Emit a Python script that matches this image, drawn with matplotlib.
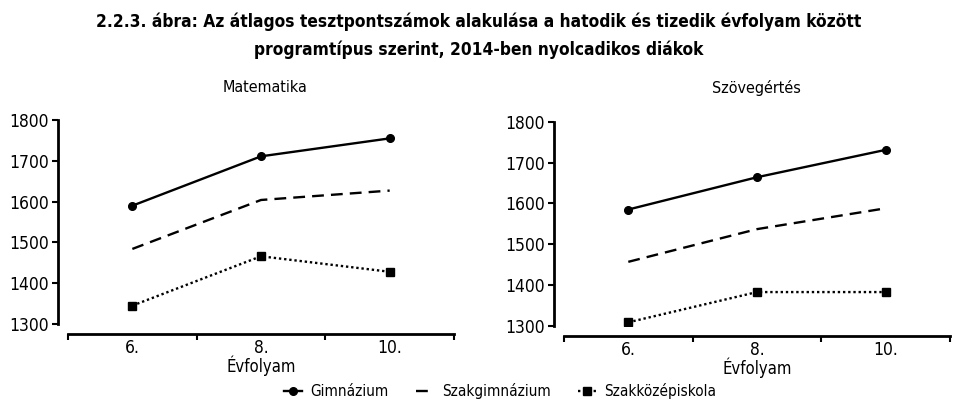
import matplotlib.pyplot as plt
from matplotlib import font_manager
from matplotlib.ticker import FixedLocator, NullFormatter

# Keskeny betűtípus, ha van
nevek = {f.name for f in font_manager.fontManager.ttflist}
szukitett = [f for f in font_manager.fontManager.ttflist
             if f.stretch in ('condensed', 'semi-condensed', 'extra-condensed', 400)]
if 'Liberation Sans Narrow' in nevek:
    plt.rcParams['font.family'] = ['Liberation Sans Narrow', 'DejaVu Sans']
elif szukitett:
    plt.rcParams['font.family'] = [szukitett[0].name, 'DejaVu Sans']
    plt.rcParams['font.stretch'] = 'condensed'
else:
    plt.rcParams['font.family'] = ['Roboto', 'DejaVu Sans']

# Adatok
evfolyam = ['6.', '8.', '10.']
sorozatok = ['Gimnázium', 'Szakgimnázium', 'Szakközépiskola']

mat_gimn = [1590, 1711, 1755]
mat_szakgimn = [1484, 1604, 1627]
mat_szakkozep = [1345, 1466, 1428]

szov_gimn = [1585, 1664, 1731]
szov_szakgimn = [1457, 1537, 1588]
szov_szakkozep = [1309, 1383, 1383]

yticks = [1300, 1400, 1500, 1600, 1700, 1800]

stilus = [
    dict(color='black', linestyle='-', marker='o', markersize=5.5, linewidth=1.7),
    dict(color='black', linestyle=(0, (5, 3)), marker=None, linewidth=1.7),
    dict(color='black', linestyle=(0, (1, 1.2)), marker='s', markersize=5.5, linewidth=1.7),
]

fig = plt.figure(figsize=(9.58, 4.13), dpi=100)

fig.text(0.5, 0.947, '2.2.3. ábra: Az átlagos tesztpontszámok alakulása a hatodik és tizedik évfolyam között',
         ha='center', va='center', fontsize=12.4, fontweight='bold')
fig.text(0.5, 0.879, 'programtípus szerint, 2014-ben nyolcadikos diákok',
         ha='center', va='center', fontsize=12.4, fontweight='bold')

ax1 = fig.add_axes([0.0710, 0.2155, 0.4029, 0.4939])
ax2 = fig.add_axes([0.5887, 0.2107, 0.4029, 0.4947])

panelek = [
    (ax1, 'Matematika', [mat_gimn, mat_szakgimn, mat_szakkozep], 0.277),
    (ax2, 'Szövegértés', [szov_gimn, szov_szakgimn, szov_szakkozep], 0.790),
]

x = list(range(len(evfolyam)))
for ax, cim, adatok, cx in panelek:
    for nev, ertekek, st in zip(sorozatok, adatok, stilus):
        ax.plot(x, ertekek, label=nev, **st)
    ax.set_xlim(-0.5, len(evfolyam) - 0.5)
    ax.set_ylim(1300, 1800)
    ax.set_yticks(yticks)
    ax.xaxis.set_major_locator(FixedLocator([i - 0.5 for i in range(len(evfolyam) + 1)]))
    ax.xaxis.set_major_formatter(NullFormatter())
    ax.set_xticks(x, minor=True)
    ax.set_xticklabels(evfolyam, minor=True)
    ax.tick_params(axis='x', which='minor', length=0, pad=4, labelsize=12.5)
    ax.tick_params(axis='x', which='major', length=4, width=1.5, direction='out')
    ax.tick_params(axis='y', length=4, width=1.5, labelsize=12.5, pad=3)
    for s in ['top', 'right']:
        ax.spines[s].set_visible(False)
    for s in ['left', 'bottom']:
        ax.spines[s].set_linewidth(2)
        ax.spines[s].set_position(('outward', 7))
    ax.set_xlabel('Évfolyam', fontsize=12, labelpad=-1)
    fig.text(cx, 0.787, cim, ha='center', va='center', fontsize=11.5)

h, l = ax1.get_legend_handles_labels()
fig.legend(h, l, loc='center', bbox_to_anchor=(0.522, 0.053), ncol=3, frameon=False,
           fontsize=11, handlelength=1.2, columnspacing=1.8, handletextpad=0.5)

fig.savefig('out.png', dpi=100)
